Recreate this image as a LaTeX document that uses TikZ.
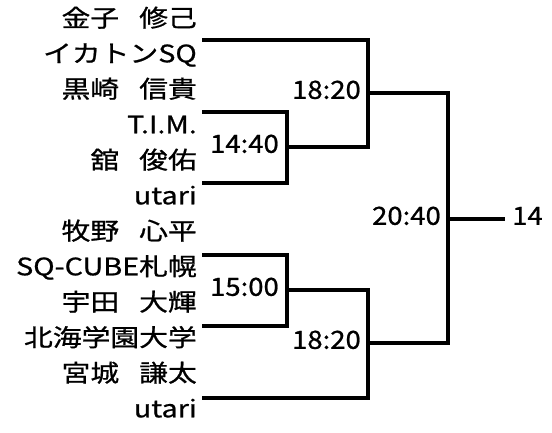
\documentclass[tikz,border=0pt]{standalone}
\usepackage{fontspec}
\setmainfont{Noto Sans CJK JP}
\newfontfamily\namefont[FakeStretch=1.2,FakeBold=0.8]{Noto Sans CJK JP}
\newfontfamily\scorefont[FakeStretch=1.1,FakeBold=0.8]{Noto Sans CJK JP}
\tikzset{
  x=1pt,y=-1pt,
  namelabel/.style={anchor=east,inner sep=0pt,text height=0.88em,text depth=0.12em,
    font=\namefont\fontsize{24}{24}\selectfont},
  scorelabel/.style={anchor=east,inner sep=0pt,text height=0.88em,text depth=0.12em,
    font=\scorefont\fontsize{25}{25}\selectfont},
  rankslabel/.style={anchor=west,inner sep=0pt,text height=0.88em,text depth=0.12em,
    font=\scorefont\fontsize{25}{25}\selectfont},
  bracket/.style={line width=3.4pt,line cap=rect,line join=miter}
}
\newcommand{\gap}{\hspace{20pt}}
\begin{document}
\begin{tikzpicture}
\useasboundingbox (0,0) rectangle (552,432);
% names
\node[namelabel] (p1)  at (197,23)    {金子\gap 修己};
\node[namelabel] (p2)  at (197,58.5)  {イカトンSQ};
\node[namelabel] (p3)  at (197,94)    {黒崎\gap 信貴};
\node[namelabel] (p4)  at (197,129.5) {T.I.M.};
\node[namelabel] (p5)  at (197,165)   {舘\gap 俊佑};
\node[namelabel] (p6)  at (197,200.5) {utari};
\node[namelabel] (p7)  at (197,236)   {牧野\gap 心平};
\node[namelabel] (p8)  at (197,271.5) {SQ-CUBE札幌};
\node[namelabel] (p9)  at (197,307)   {宇田\gap 大輝};
\node[namelabel] (p10) at (197,342.5) {北海学園大学};
\node[namelabel] (p11) at (197,378)   {宮城\gap 謙太};
\node[namelabel] (p12) at (197,413.5) {utari};
% bracket points
\coordinate (a1) at (204,40);
\coordinate (a2) at (368,40);
\coordinate (a3) at (368,147);
\coordinate (b1) at (204,112);
\coordinate (b2) at (287,112);
\coordinate (b3) at (287,183);
\coordinate (b4) at (204,183);
\coordinate (b5) at (287,147);
\coordinate (c1) at (204,255);
\coordinate (c2) at (287,255);
\coordinate (c3) at (287,326);
\coordinate (c4) at (204,326);
\coordinate (c5) at (287,290);
\coordinate (d1) at (204,398);
\coordinate (d2) at (368,398);
\coordinate (d3) at (368,290);
\coordinate (e1) at (368,93);
\coordinate (e2) at (448,93);
\coordinate (f1) at (368,343);
\coordinate (f2) at (448,343);
\coordinate (g1) at (448,219);
\coordinate (g2) at (503,219);
% lines
\draw[bracket] (b1) -- (b2) -- (b3) -- (b4);
\draw[bracket] (c1) -- (c2) -- (c3) -- (c4);
\draw[bracket] (a1) -- (a2) -- (a3) -- (b5);
\draw[bracket] (d1) -- (d2) -- (d3) -- (c5);
\draw[bracket] (e1) -- (e2) -- (f2) -- (f1);
\draw[bracket] (g1) -- (g2);
% scores
\node[scorelabel] (s1) at (279,149) {14:40};
\node[scorelabel] (s2) at (279,292) {15:00};
\node[scorelabel] (s3) at (361,95)  {18:20};
\node[scorelabel] (s4) at (361,345) {18:20};
\node[scorelabel] (s5) at (441,221) {20:40};
\node[rankslabel] (r)  at (512,221) {14};
\end{tikzpicture}
\end{document}
